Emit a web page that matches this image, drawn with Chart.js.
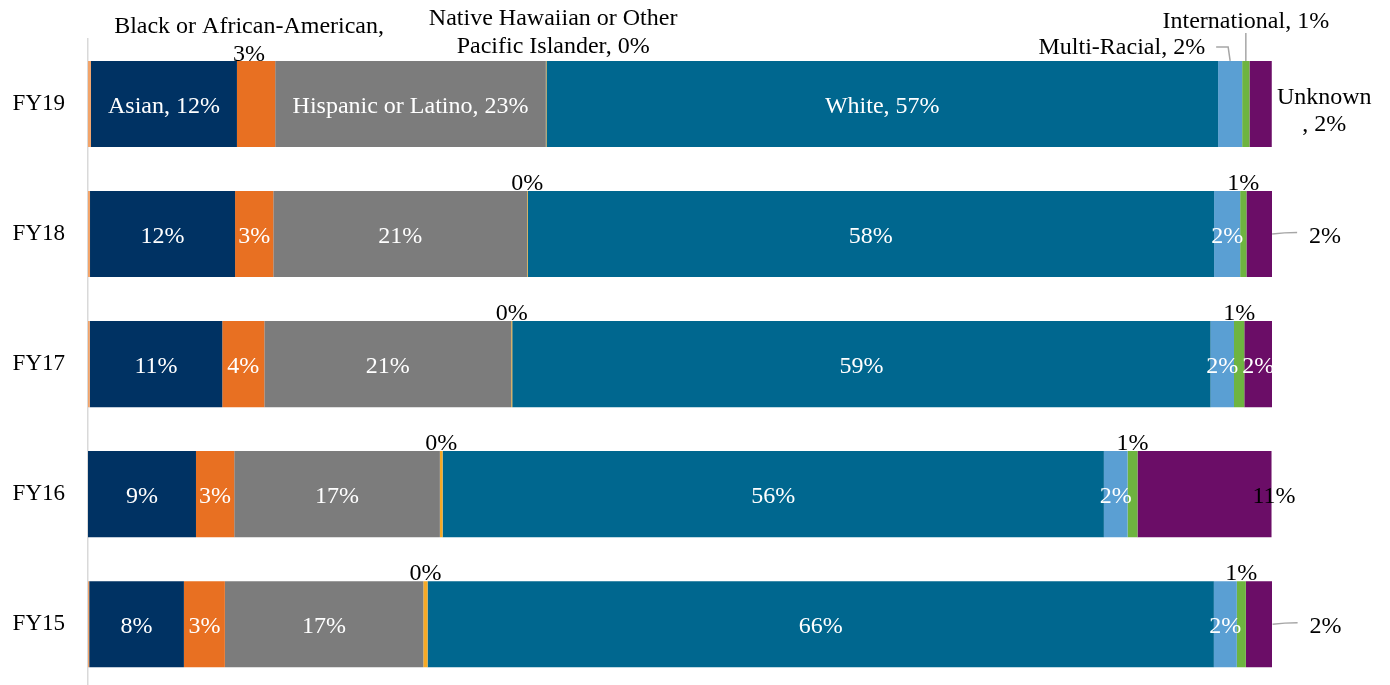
<!DOCTYPE html>
<html><head><meta charset="utf-8">
<script src="https://cdn.jsdelivr.net/npm/chart.js@4/dist/chart.umd.min.js"></script>
<style>html,body{margin:0;padding:0;overflow:hidden;background:#fff}
#wrap{position:relative;width:1390px;height:726px}</style>
</head><body>
<div id="wrap"><canvas id="c"></canvas></div>
<script>
// ---- data (percent of total) ----
const categories = ['FY19', 'FY18', 'FY17', 'FY16', 'FY15'];
const seriesNames = ['American Indian or Alaska Native', 'Asian', 'Black or African-American', 'Hispanic or Latino',
  'Native Hawaiian or Other Pacific Islander', 'White', 'Multi-Racial', 'International', 'Unknown'];
const americanIndian = [0.25, 0.17, 0.15, 0.00, 0.10];
const asian          = [12.33, 12.25, 11.19, 9.12, 8.00];
const black          = [3.23, 3.23, 3.55, 3.23, 3.46];
const hispanic       = [22.86, 21.43, 20.86, 17.37, 16.76];
const nativeHawaiian = [0.05, 0.05, 0.08, 0.23, 0.36];
const white          = [56.73, 57.98, 58.98, 55.85, 66.41];
const multiRacial    = [2.03, 2.20, 1.98, 2.00, 1.94];
const international  = [0.62, 0.53, 0.87, 0.84, 0.76];
const unknown        = [1.88, 2.17, 2.36, 11.32, 2.26];

const seriesValues = [americanIndian, asian, black, hispanic, nativeHawaiian, white, multiRacial, international, unknown];
const seriesColors = ['#F2A46A', '#003263', '#E87022', '#7C7C7C', '#F6A925', '#00678F', '#5A9FD3', '#6EB440', '#6B0D67'];

const FONT = '24px "Liberation Serif", "Times New Roman", serif';
const namedRow = 'FY19';
const pct = v => Math.round(v) + '%';

// label placement (style only)
const defaultMode = {
  'American Indian or Alaska Native': null,
  'Native Hawaiian or Other Pacific Islander': 'above',
  'International': 'above'
};
const overrides = {
  'Black or African-American|FY19': {mode: 'aboveLines', dx: -7, off: 0, lines: (n, p) => [n + ',', p]},
  'Native Hawaiian or Other Pacific Islander|FY19': {mode: 'aboveLines', dx: 7, off: -8,
    lines: (n, p) => { const w = n.split(' '); return [w.slice(0, 4).join(' '), w.slice(4).join(' ') + ', ' + p]; }},
  'Multi-Racial|FY19': {mode: 'leftLeader'},
  'International|FY19': {mode: 'aboveLeader'},
  'Unknown|FY19': {mode: 'right2'},
  'Unknown|FY18': {mode: 'rightLeader'},
  'Unknown|FY15': {mode: 'rightLeader'},
  'Unknown|FY16': {mode: 'end'}
};
function placementFor(name, cat) {
  const o = overrides[name + '|' + cat];
  if (o) return o;
  const d = defaultMode[name];
  if (d === null) return null;
  return {mode: d || 'center'};
}

const labelPlugin = {
  id: 'segLabels',
  afterDatasetsDraw(chart) {
    const ctx = chart.ctx;
    ctx.save();
    ctx.font = FONT;
    ctx.textBaseline = 'alphabetic';
    chart.data.datasets.forEach((ds, di) => {
      const meta = chart.getDatasetMeta(di);
      meta.data.forEach((el, i) => {
        const cat = chart.data.labels[i];
        const p = placementFor(ds.label, cat);
        if (!p) return;
        const v = ds.data[i];
        const pv = pct(v);
        const named = cat === namedRow;
        const left = Math.min(el.x, el.base), right = Math.max(el.x, el.base);
        const cx = (left + right) / 2, cy = el.y, top = cy - el.height / 2;
        const leader = pts => {
          ctx.save(); ctx.strokeStyle = '#A6A6A6'; ctx.lineWidth = 1.5;
          ctx.beginPath(); ctx.moveTo(pts[0][0], pts[0][1]);
          for (let k = 1; k < pts.length; k++) ctx.lineTo(pts[k][0], pts[k][1]);
          ctx.stroke(); ctx.restore();
        };
        switch (p.mode) {
          case 'center':
            ctx.fillStyle = '#FFFFFF'; ctx.textAlign = 'center';
            ctx.fillText(named ? ds.label + ', ' + pv : pv, cx, cy + 8.5);
            break;
          case 'above':
            ctx.fillStyle = '#000'; ctx.textAlign = 'center';
            ctx.fillText(pv, cx, top - 1);
            break;
          case 'aboveLines': {
            const lines = p.lines(ds.label, pv);
            ctx.fillStyle = '#000'; ctx.textAlign = 'center';
            lines.forEach((t, k) => ctx.fillText(t, cx + p.dx, top + p.off - 28 * (lines.length - 1 - k)));
            break;
          }
          case 'leftLeader':
            ctx.fillStyle = '#000'; ctx.textAlign = 'right';
            ctx.fillText(ds.label + ', ' + pv, cx - 25, top - 7);
            leader([[cx - 14, top - 14], [cx - 2, top - 14], [cx, top]]);
            break;
          case 'aboveLeader':
            ctx.fillStyle = '#000'; ctx.textAlign = 'center';
            ctx.fillText(ds.label + ', ' + pv, cx, top - 33);
            leader([[cx, top - 28], [cx, top]]);
            break;
          case 'right2':
            ctx.fillStyle = '#000'; ctx.textAlign = 'center';
            ctx.fillText(ds.label, right + 52.5, cy);
            ctx.fillText(', ' + pv, right + 52.5, cy + 27);
            break;
          case 'rightLeader':
            ctx.fillStyle = '#000'; ctx.textAlign = 'center';
            ctx.fillText(pv, right + 53, cy + 8.5);
            ctx.save(); ctx.strokeStyle = '#A6A6A6'; ctx.lineWidth = 1.5;
            ctx.beginPath(); ctx.moveTo(right, cy);
            ctx.quadraticCurveTo(right + 12, cy - 1.5, right + 25, cy - 1.5);
            ctx.stroke(); ctx.restore();
            break;
          case 'end':
            ctx.fillStyle = '#000'; ctx.textAlign = 'center';
            ctx.fillText(pv, right + 2.5, cy + 8.5);
            break;
        }
      });
    });
    ctx.restore();
  }
};

new Chart(document.getElementById('c'), {
  type: 'bar',
  data: {
    labels: categories,
    datasets: seriesNames.map((n, k) => ({
      label: n,
      data: seriesValues[k],
      backgroundColor: seriesColors[k],
      borderWidth: 0,
      categoryPercentage: 1,
      barPercentage: 0.662
    }))
  },
  options: {
    responsive: true,
    maintainAspectRatio: false,
    animation: false,
    indexAxis: 'y',
    layout: {padding: {left: 0, top: 39, right: 118, bottom: 0}},
    plugins: {legend: {display: false}, tooltip: {enabled: false}},
    scales: {
      x: {stacked: true, min: 0, max: 100, display: false},
      y: {
        stacked: true,
        grid: {display: false, drawTicks: false},
        border: {display: true, color: '#D9D9D9', width: 1.5},
        ticks: {color: '#000', font: {family: '"Liberation Serif", "Times New Roman", serif', size: 23}, padding: 23},
        afterFit(s) { s.width = 88; }
      }
    }
  },
  plugins: [labelPlugin]
});
</script>
</body></html>
